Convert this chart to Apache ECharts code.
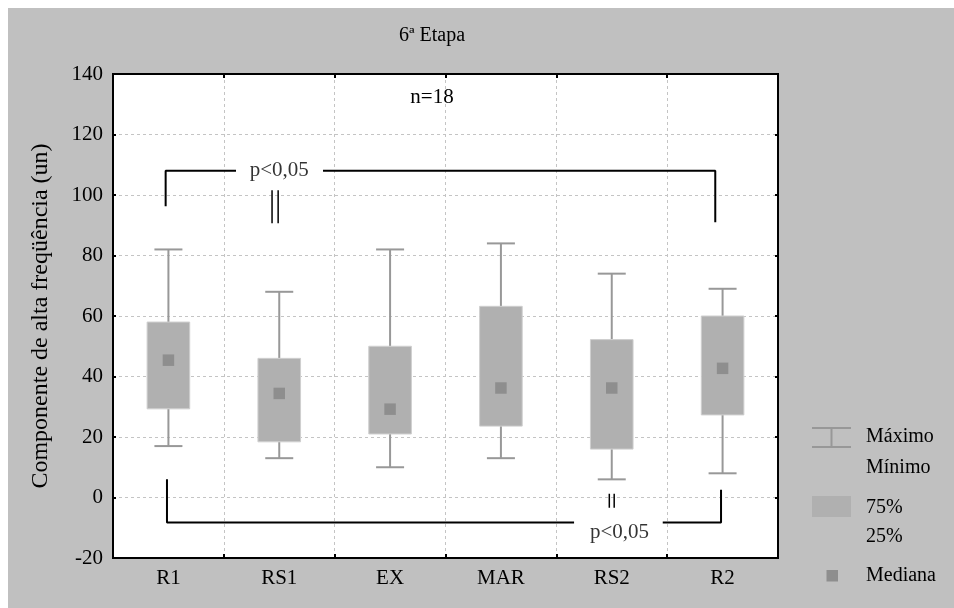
<!DOCTYPE html>
<html>
<head>
<meta charset="utf-8">
<title>6ª Etapa</title>
<script src="https://cdn.jsdelivr.net/npm/echarts@6/dist/echarts.min.js"></script>
<style>
  html, body { margin: 0; padding: 0; background: #fff; }
  #chart { width: 954px; height: 608px; }
</style>
</head>
<body>
<div id="chart"></div>
<script>
// Categories and box statistics (minimum, 25%, median, 75%, maximum)
const categories = ['R1', 'RS1', 'EX', 'MAR', 'RS2', 'R2'];
const minimum = [17, 13, 10, 13, 6, 8];
const q25     = [29.3, 18.4, 21, 23.6, 16, 27.3];
const median  = [45.4, 34.4, 29.2, 36.2, 36.2, 42.7];
const q75     = [58, 46, 50, 63.2, 52.2, 60];
const maximum = [82, 68, 82, 84, 74, 69];

// Y axis ticks
const yTicks = [-20, 0, 20, 40, 60, 80, 100, 120, 140];

// Significance brackets, in category units (0..6) and axis values
const upperBracket = [[0.475, 96.3], [0.475, 108], [1.11, 108], null, [1.895, 108], [5.434, 108], [5.434, 91]];
const upperMarkA = [[1.435, 101.6], [1.435, 90.7]];
const upperMarkB = [[1.49, 101.6], [1.49, 90.7]];
const upperLabel = [[1.5, 108, 'p<0,05']];
const lowerBracket = [[0.487, 6], [0.487, -8.3], [4.16, -8.3], null, [4.96, -8.3], [5.486, -8.3], [5.486, 2.6]];
const lowerMarkA = [[4.478, 1.2], [4.478, -3.4]];
const lowerMarkB = [[4.522, 1.2], [4.522, -3.4]];
const lowerLabel = [[4.57, -11.4, 'p<0,05']];

const FONT = '"Liberation Serif", "Times New Roman", serif';
const BOX_FILL = '#b0b0b0';
const WHISKER = '#989898';
const MEDIAN = '#8e8e8e';

const boxData = categories.map((c, i) => [i, minimum[i], q25[i], median[i], q75[i], maximum[i]]);

function renderBox(params, api) {
  const i = api.value(0);
  const pMin = api.coord([i, api.value(1)]);
  const pQ1 = api.coord([i, api.value(2)]);
  const pMed = api.coord([i, api.value(3)]);
  const pQ3 = api.coord([i, api.value(4)]);
  const pMax = api.coord([i, api.value(5)]);
  const x = pMed[0];
  const boxW = 42.6, capW = 28, medS = 11.5;
  const lineStyle = { stroke: WHISKER, lineWidth: 2 };
  return {
    type: 'group',
    children: [
      { type: 'line', shape: { x1: x, y1: pMin[1], x2: x, y2: pQ1[1] }, style: lineStyle },
      { type: 'line', shape: { x1: x - capW / 2, y1: pMin[1], x2: x + capW / 2, y2: pMin[1] }, style: lineStyle },
      { type: 'line', shape: { x1: x, y1: pQ3[1], x2: x, y2: pMax[1] }, style: lineStyle },
      { type: 'line', shape: { x1: x - capW / 2, y1: pMax[1], x2: x + capW / 2, y2: pMax[1] }, style: lineStyle },
      { type: 'rect', shape: { x: x - boxW / 2, y: pQ3[1], width: boxW, height: pQ1[1] - pQ3[1] },
        style: { fill: BOX_FILL, stroke: '#cfcfcf', lineWidth: 1 } },
      { type: 'rect', shape: { x: x - medS / 2, y: pMed[1] - medS / 2, width: medS, height: medS },
        style: { fill: MEDIAN } }
    ]
  };
}

function bracketSeries(data, width) {
  return {
    type: 'line', xAxisIndex: 2, yAxisIndex: 0, data: data,
    symbol: 'none', silent: true, connectNulls: false,
    lineStyle: { color: '#000', width: width }, z: 5
  };
}

function labelSeries(data) {
  return {
    type: 'scatter', xAxisIndex: 2, yAxisIndex: 0, data: data,
    symbolSize: 0, silent: true, z: 6,
    label: {
      show: true, position: 'inside', formatter: p => p.value[2],
      color: '#000', fontFamily: FONT, fontSize: 21
    }
  };
}

const chart = echarts.init(document.getElementById('chart'));

const legendX = 812, legendTextX = 866;
const legendFont = { fontFamily: FONT, fontSize: 20, fill: '#000', verticalAlign: 'middle' };

chart.setOption({
  backgroundColor: '#fff',
  animation: false,
  title: {
    text: '6ª Etapa', left: 427, top: 21, textAlign: 'center',
    textStyle: { fontFamily: FONT, fontSize: 20, fontWeight: 'normal', color: '#000' }
  },
  grid: {
    left: 113, right: 176, top: 74, bottom: 50,
    show: true, backgroundColor: '#fff', borderColor: '#000', borderWidth: 2
  },
  xAxis: [
    {
      type: 'category', data: categories, position: 'bottom',
      axisLine: { onZero: false, lineStyle: { color: '#000', width: 2 } },
      axisTick: { show: true, inside: true, length: 4, lineStyle: { color: '#000', width: 2 } },
      axisLabel: { color: '#000', fontFamily: FONT, fontSize: 21, margin: 10 },
      splitLine: { show: true, lineStyle: { color: '#c4c4c4', type: [3, 3], width: 1 } }
    },
    {
      type: 'category', data: categories, position: 'top',
      axisLine: { onZero: false, lineStyle: { color: '#000', width: 2 } },
      axisTick: { show: true, inside: true, length: 4, lineStyle: { color: '#000', width: 2 } },
      axisLabel: { show: false }, splitLine: { show: false }
    },
    { type: 'value', min: 0, max: 6, show: false }
  ],
  yAxis: [
    {
      type: 'value', min: -20, max: 140, interval: 20,
      name: 'Componente de alta freqüência (un)', nameLocation: 'middle', nameGap: 60,
      nameTextStyle: { fontFamily: FONT, fontSize: 24, color: '#000' },
      axisLine: { show: true, onZero: false, lineStyle: { color: '#000', width: 2 } },
      axisTick: { show: true, inside: true, length: 3, lineStyle: { color: '#000', width: 2 } },
      axisLabel: {
        color: '#000', fontFamily: FONT, fontSize: 21, margin: 10,
        formatter: v => (yTicks.includes(v) ? String(v) : '')
      },
      splitLine: { show: true, lineStyle: { color: '#c4c4c4', type: [3, 3], width: 1 } }
    },
    {
      type: 'value', min: -20, max: 140, interval: 20, position: 'right',
      axisLine: { show: true, onZero: false, lineStyle: { color: '#000', width: 2 } },
      axisTick: { show: true, inside: true, length: 3, lineStyle: { color: '#000', width: 2 } },
      axisLabel: { show: false }, splitLine: { show: false }
    }
  ],
  graphic: [
    { type: 'rect', z: -100, silent: true, shape: { x: 8, y: 8, width: 946, height: 600 }, style: { fill: '#c0c0c0' } },
    { type: 'text', x: 432, y: 97, z: 10, style: { text: 'n=18', fontFamily: FONT, fontSize: 21, fill: '#000', align: 'center', verticalAlign: 'middle' } },
    // Legend: whisker icon
    { type: 'line', shape: { x1: legendX, y1: 428, x2: legendX + 39, y2: 428 }, style: { stroke: WHISKER, lineWidth: 2 } },
    { type: 'line', shape: { x1: legendX, y1: 447, x2: legendX + 39, y2: 447 }, style: { stroke: WHISKER, lineWidth: 2 } },
    { type: 'line', shape: { x1: legendX + 19.5, y1: 428, x2: legendX + 19.5, y2: 447 }, style: { stroke: WHISKER, lineWidth: 2 } },
    { type: 'text', x: legendTextX, y: 437, style: Object.assign({ text: 'Máximo' }, legendFont) },
    { type: 'text', x: legendTextX, y: 468, style: Object.assign({ text: 'Mínimo' }, legendFont) },
    // Legend: box icon
    { type: 'rect', shape: { x: legendX, y: 496, width: 39, height: 21 }, style: { fill: BOX_FILL } },
    { type: 'text', x: legendTextX, y: 508, style: Object.assign({ text: '75%' }, legendFont) },
    { type: 'text', x: legendTextX, y: 537, style: Object.assign({ text: '25%' }, legendFont) },
    // Legend: median icon
    { type: 'rect', shape: { x: 826.5, y: 570, width: 11.5, height: 11.5 }, style: { fill: MEDIAN } },
    { type: 'text', x: legendTextX, y: 576, style: Object.assign({ text: 'Mediana' }, legendFont) }
  ],
  series: [
    {
      type: 'custom', xAxisIndex: 0, yAxisIndex: 0, data: boxData,
      renderItem: renderBox, z: 3, silent: true
    },
    bracketSeries(upperBracket, 2),
    bracketSeries(upperMarkA, 1.5),
    bracketSeries(upperMarkB, 1.5),
    bracketSeries(lowerBracket, 2),
    bracketSeries(lowerMarkA, 1.5),
    bracketSeries(lowerMarkB, 1.5),
    labelSeries(upperLabel),
    labelSeries(lowerLabel)
  ]
});
</script>
</body>
</html>
